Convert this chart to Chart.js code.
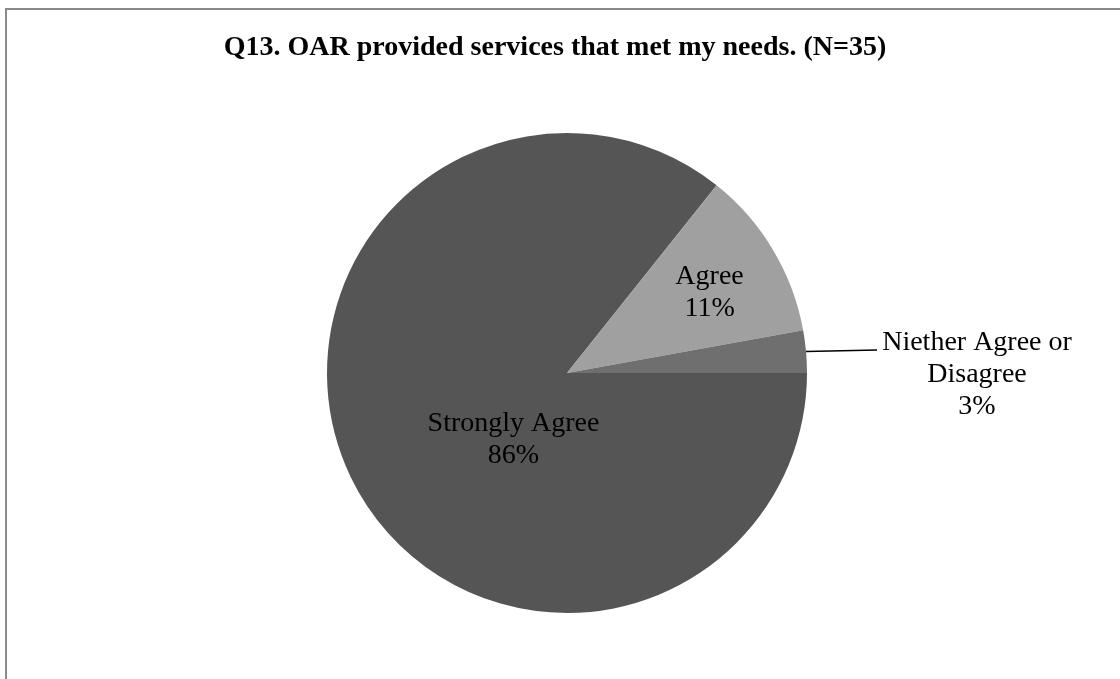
<!DOCTYPE html>
<html><head><meta charset="utf-8">
<script src="https://cdn.jsdelivr.net/npm/chart.js@4/dist/chart.umd.min.js"></script>
<style>
html,body{margin:0;padding:0;background:#fff;overflow:hidden}
#wrap{position:relative;width:1120px;height:679px;overflow:hidden}
#frame{position:absolute;left:5px;top:8px;width:1200px;height:800px;border:2px solid #8a8a8a;box-sizing:border-box;pointer-events:none}
canvas{position:absolute;left:0;top:0}
</style></head><body>
<div id="wrap"><canvas id="c" width="1120" height="679"></canvas><div id="frame"></div></div>
<script>
const titleText = 'Q13. OAR provided services that met my needs. (N=35)';
const categories = ['Strongly Agree', 'Agree', 'Niether Agree or Disagree'];
const labelLines = [['Strongly Agree'], ['Agree'], ['Niether Agree or', 'Disagree']];
const counts = [30, 4, 1];
const percentLabels = ['86%', '11%', '3%'];
const colors = ['#555555', '#a0a0a0', '#6f6f6f'];

// label placement (style only)
const placement = [
  {type: 'inside', dAngle: -28.6, rFrac: 0.382},
  {type: 'inside', dAngle: 3.8, rFrac: 0.667},
  {type: 'outside', dx: 71, dy: -1.5, textDx: 100, baseDy: 0}
];
const LH = 32;
const LABEL_FONT = '28px "Liberation Serif", "Times New Roman", serif';

const titlePlugin = {
  id: 'customTitle',
  afterDraw(chart) {
    const ctx = chart.ctx;
    ctx.save();
    ctx.font = 'bold 28px "Liberation Serif", "Times New Roman", serif';
    ctx.fillStyle = '#000';
    ctx.textAlign = 'center';
    ctx.textBaseline = 'alphabetic';
    ctx.fillText(titleText, 555, 55);
    ctx.restore();
  }
};

const labelPlugin = {
  id: 'sliceLabels',
  afterDatasetsDraw(chart) {
    const meta = chart.getDatasetMeta(0);
    const ctx = chart.ctx;
    ctx.save();
    ctx.font = LABEL_FONT;
    ctx.fillStyle = '#000';
    ctx.textAlign = 'center';
    ctx.textBaseline = 'alphabetic';
    meta.data.forEach((arc, i) => {
      const {x, y, startAngle, endAngle, outerRadius} =
        arc.getProps(['x', 'y', 'startAngle', 'endAngle', 'outerRadius'], true);
      const mid = (startAngle + endAngle) / 2;
      const lines = [...labelLines[i], percentLabels[i]];
      const p = placement[i];
      if (p.type === 'inside') {
        const a = mid + p.dAngle * Math.PI / 180;
        const r = outerRadius * p.rFrac;
        const cx = x + Math.cos(a) * r, cy = y + Math.sin(a) * r;
        const first = cy - (lines.length - 1) * LH / 2;
        lines.forEach((t, k) => ctx.fillText(t, cx, first + k * LH));
      } else {
        const ex = x + Math.cos(mid) * outerRadius, ey = y + Math.sin(mid) * outerRadius;
        const lx = ex + p.dx, ly = ey + p.dy;
        ctx.strokeStyle = '#000';
        ctx.lineWidth = 1.5;
        ctx.beginPath();
        ctx.moveTo(ex, ey);
        ctx.lineTo(lx, ly);
        ctx.stroke();
        const tx = lx + p.textDx;
        lines.forEach((t, k) => ctx.fillText(t, tx, ly + p.baseDy + k * LH));
      }
    });
    ctx.restore();
  }
};

new Chart(document.getElementById('c'), {
  type: 'pie',
  data: {
    labels: categories,
    datasets: [{
      data: counts,
      backgroundColor: colors,
      borderWidth: 0
    }]
  },
  options: {
    responsive: false,
    animation: false,
    devicePixelRatio: 1,
    rotation: 90,
    layout: {padding: {top: 133, bottom: 66, left: 327, right: 313}},
    plugins: {
      legend: {display: false},
      tooltip: {enabled: false},
      title: {display: false}
    }
  },
  plugins: [labelPlugin, titlePlugin]
});
</script>
</body></html>
